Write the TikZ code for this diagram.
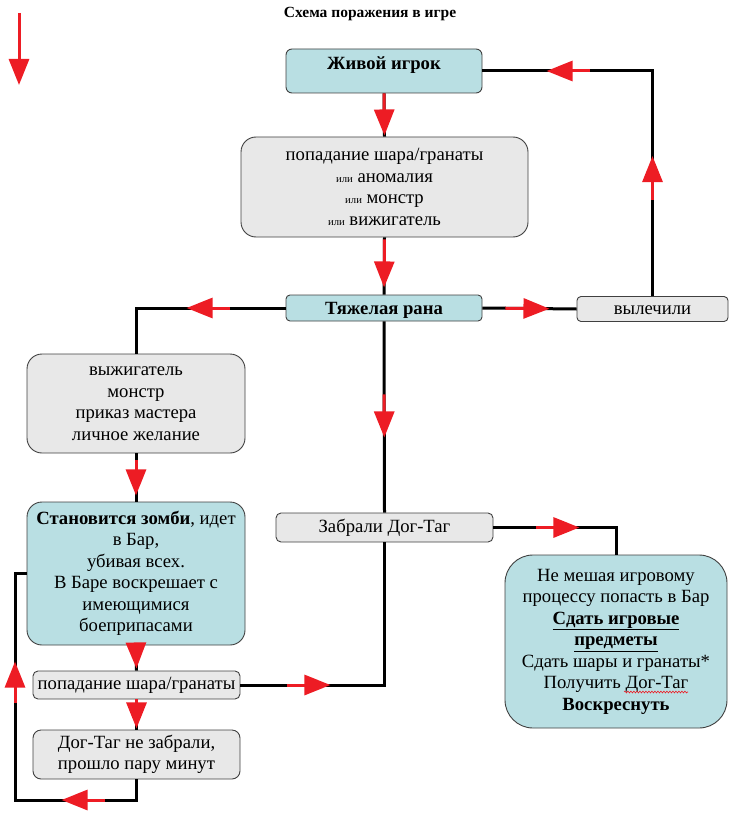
\documentclass[tikz,border=0pt]{standalone}
\usepackage{fontspec}
\setmainfont{Liberation Serif}
\usetikzlibrary{arrows.meta,decorations.markings,decorations.pathmorphing}

\definecolor{boxblue}{HTML}{B9DFE3}
\definecolor{boxgray}{HTML}{E8E8E8}
\definecolor{arrowred}{HTML}{ED1C24}
\newcommand{\ili}{{\fontsize{10.67}{12}\selectfont или}}

\tikzset{
    box/.style={draw=black!75, line width=0.9pt, rounded corners=#1, inner sep=0pt,
        align=center, font=\fontsize{18.67}{21.5}\selectfont},
    box/.default=5pt,
    bluebox/.style={box=#1, fill=boxblue},
    bluebox/.default=5pt,
    graybox/.style={box=#1, fill=boxgray},
    graybox/.default=5pt,
    link/.style={draw=black, line width=3pt},
    redtip/.style={draw=arrowred, line width=3pt, -{Triangle[width=20pt,length=26pt]}},
    redmark/.style args={#1 by #2}{postaction={decorate, decoration={markings,
        mark=at position #1 with {\draw[redtip] (-#2,0) -- (0,0);}}}},
}

\begin{document}
\begin{tikzpicture}[x=1pt, y=-1pt]
    \useasboundingbox (0,0) rectangle (739,813);

    % Title and the red arrow at the top left
    \node[font=\bfseries\fontsize{15.5}{18}\selectfont] (title) at (370,14) {Схема поражения в игре};
    \coordinate (mark0) at (19,13);
    \coordinate (mark1) at (19,85);
    \draw[redtip] (mark0) -- (mark1);

    % Main column
    \node[bluebox=6pt, minimum width=196pt, minimum height=44pt, text height=12pt, text depth=14pt,
        font=\bfseries\fontsize{18.67}{21.5}\selectfont] (alive) at (384,71) {Живой игрок};
    \node[graybox=15pt, minimum width=287pt, minimum height=100pt] (hit) at (384.5,187)
        {попадание шара/гранаты\\\ili{} аномалия\\\ili{} монстр\\\ili{} вижигатель};
    \node[bluebox=4pt, minimum width=196pt, minimum height=26pt, text height=12pt, text depth=0pt,
        font=\bfseries\fontsize{18.67}{21.5}\selectfont] (wound) at (384,308) {Тяжелая рана};
    \node[graybox=4pt, minimum width=151pt, minimum height=25pt, text height=10pt, text depth=0pt]
        (heal) at (652.5,309) {вылечили};
    \node[graybox=5pt, minimum width=217pt, minimum height=29pt] (dog) at (384.5,527.5) {Забрали Дог-Таг};
    \node[bluebox=28pt, minimum width=222pt, minimum height=173pt] (revive) at (616,641.5)
        {Не мешая игровому\\процессу попасть в Бар\\\textbf{\underline{Сдать игровые}}\\
        \textbf{\underline{предметы}}\\Сдать шары и гранаты*\\Получить Дог-Таг\\\textbf{Воскреснуть}};
    % spell-check squiggle under "Дог-Таг"
    \draw[arrowred, line width=0.6pt, decorate, decoration={snake, amplitude=0.9pt, segment length=3pt}]
        (624,692) -- (688,692);

    % Left column
    \node[graybox=15pt, minimum width=218pt, minimum height=99pt] (cause) at (136,403.5)
        {выжигатель\\монстр\\приказ мастера\\личное желание};
    \node[bluebox=15pt, minimum width=218pt, minimum height=143pt] (zombie) at (136,573.5)
        {\textbf{Становится зомби}, идет\\в Бар,\\убивая всех.\\В Баре воскрешает с\\имеющимися\\боеприпасами};
    \node[graybox=5pt, minimum width=207pt, minimum height=28pt] (strike) at (136.5,685) {попадание шара/гранаты};
    \node[graybox=8pt, minimum width=207pt, minimum height=49pt] (lost) at (136.5,754.5)
        {Дог-Таг не забрали,\\прошло пару минут};
    \coordinate (loopbl) at (15,800);

    % Connectors
    \draw[link, redmark=42pt by 42pt] (alive.south) -- (hit.north);
    \draw[link, redmark=50pt by 48pt] (hit.south) -- (wound.north);
    \draw[link, redmark=99pt by 43pt] (wound.west) -| (cause.north);
    \draw[link, redmark=67pt by 44pt] (wound.east) -- (heal.west);
    \draw[link, redmark=140pt by 44pt, redmark=331pt by 43pt] (heal.north) |- (alive.east);
    \draw[link, redmark=116pt by 43pt] (wound.south) -- (dog.north);
    \draw[link, redmark=90pt by 43pt] (strike.east) -| (dog.south);
    \draw[link, redmark=86pt by 43pt] (dog.east) -| (revive.north);
    \draw[link, redmark=42pt by 35pt] (cause.south) -- (zombie.north);
    \draw[link, redmark=23pt by 23pt] (zombie.south) -- (strike.north);
    \draw[link, redmark=29pt by 29pt] (strike.south) -- (lost.north);
    \draw[link, redmark=95.5pt by 43pt, redmark=280.5pt by 41pt] (lost.south) |- (loopbl) |- (zombie.west);
\end{tikzpicture}
\end{document}
